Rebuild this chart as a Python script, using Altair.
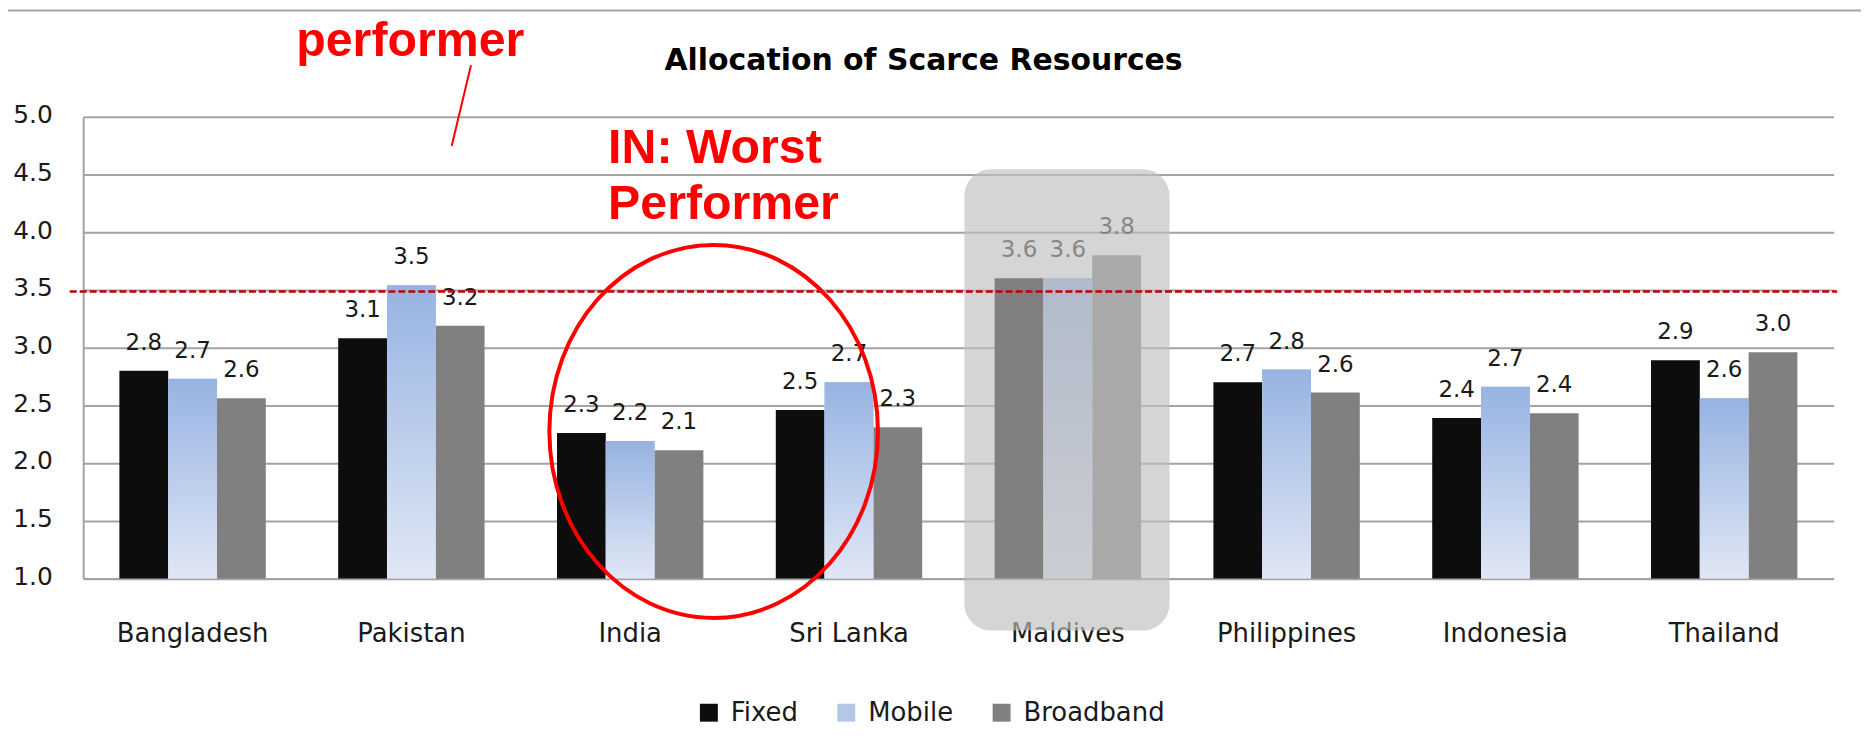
import altair as alt
import pandas as pd

# ---------------- data ----------------
countries = ["Bangladesh", "Pakistan", "India", "Sri Lanka", "Maldives",
             "Philippines", "Indonesia", "Thailand"]
series = ["Fixed", "Mobile", "Broadband"]
fixed = [2.80, 3.08, 2.26, 2.46, 3.60, 2.70, 2.39, 2.89]
mobile = [2.73, 3.54, 2.19, 2.70, 3.60, 2.81, 2.66, 2.56]
broadband = [2.56, 3.19, 2.11, 2.31, 3.80, 2.61, 2.43, 2.96]
y_ticks = [1.0, 1.5, 2.0, 2.5, 3.0, 3.5, 4.0, 4.5, 5.0]
benchmark = [3.485]
title_text = "Allocation of Scarce Resources"
note_top = "performer"
note_india = ["IN: Worst", "Performer"]

rows = []
for i, c in enumerate(countries):
    for s, vals in zip(series, [fixed, mobile, broadband]):
        rows.append({"country": c, "series": s, "value": vals[i]})
df = pd.DataFrame(rows)
one = pd.DataFrame({"k": [0]})

W, H = 1758, 463.6
GRID = "#a3a3a3"
TXT = "#1a1a1a"

x_enc = alt.X("country:N", sort=countries,
              scale=alt.Scale(paddingInner=0.331, paddingOuter=0.1655),
              axis=alt.Axis(title=None, labelAngle=0, ticks=False, tickSize=0,
                            labelPadding=42, labelFont="DejaVu Sans",
                            labelFontSize=26, labelColor=TXT,
                            domainColor=GRID, domainWidth=2, grid=False))
xo_enc = alt.XOffset("series:N", sort=series,
                     scale=alt.Scale(domain=series, paddingInner=0, paddingOuter=0))
y_scale = alt.Scale(domain=[1, 5], zero=False, nice=False)
y_enc = alt.Y("value:Q", scale=y_scale,
              axis=alt.Axis(title=None, values=y_ticks, format=".1f",
                            ticks=False, tickSize=0, labelPadding=31,
                            labelFont="DejaVu Sans", labelFontSize=25,
                            labelColor=TXT, labelOffset=-2,
                            grid=True, gridColor=GRID, gridWidth=2,
                            domainColor=GRID, domainWidth=2))

base = alt.Chart(df)

bars = base.mark_bar().encode(
    x=x_enc, xOffset=xo_enc, y=y_enc, y2=alt.datum(1.0),
    color=alt.Color("series:N", sort=series,
                    scale=alt.Scale(domain=series,
                                    range=["#0d0d0d", "#b4c7e7", "#808080"]),
                    legend=alt.Legend(title=None, orient="none",
                                      legendX=615.4, legendY=585.5,
                                      direction="horizontal",
                                      symbolType="square", symbolSize=324,
                                      symbolStrokeWidth=0, symbolOpacity=1,
                                      labelFont="DejaVu Sans", labelFontSize=26,
                                      labelColor=TXT, labelOffset=9,
                                      columnPadding=35, padding=0)),
)

mobile_grad = base.transform_filter(alt.datum.series == "Mobile").mark_bar(
    fill=alt.Gradient(gradient="linear", x1=0, x2=0, y1=0, y2=1,
                      stops=[alt.GradientStop(color="#97b3e2", offset=0),
                             alt.GradientStop(color="#e0e7f5", offset=1)])
).encode(x=alt.X("country:N", sort=countries), xOffset=xo_enc,
         y=alt.Y("value:Q"), y2=alt.datum(1.0))

labels = base.mark_text(baseline="alphabetic", dy=-21, font="DejaVu Sans",
                        fontSize=23, color=TXT).encode(
    x=alt.X("country:N", sort=countries), xOffset=xo_enc,
    y=alt.Y("value:Q"), text=alt.Text("value:Q", format=".1f"))

maldives_box = alt.Chart(one).mark_rect(
    cornerRadius=27, fill="#bebebe", opacity=0.65).encode(
    x=alt.value(885), x2=alt.value(1091),
    y=alt.value(52.6), y2=alt.value(516))

bench = alt.Chart(pd.DataFrame({"b": benchmark})).mark_rule(
    color="#c00000", strokeWidth=2.5, strokeDash=[7, 3]).encode(
    y=alt.Y("b:Q"), x=alt.value(-13.5), x2=alt.value(1761.5))

ellipse_path = "M -0.881 0 A 0.881 1 0 1 1 0.881 0 A 0.881 1 0 1 1 -0.881 0 Z"
ellipse = alt.Chart(one).mark_point(
    shape=ellipse_path, filled=False, color="#ff0000", strokeWidth=4,
    size=140325, opacity=1).encode(x=alt.value(633.2), y=alt.value(316))

note1 = alt.Chart(one).mark_text(
    align="left", baseline="alphabetic", font="Liberation Sans",
    fontWeight="bold", fontSize=48.5, color="#ff0000", lineHeight=57).encode(
    x=alt.value(527.2), y=alt.value(46), text=alt.value(note_india))

note2 = alt.Chart(one).mark_text(
    align="left", baseline="alphabetic", font="Liberation Sans",
    fontWeight="bold", fontSize=48.5, color="#ff0000").encode(
    x=alt.value(214), y=alt.value(-60.7), text=alt.value(note_top))

pointer = alt.Chart(one).mark_rule(color="#ff0000", strokeWidth=2).encode(
    x=alt.value(389.5), y=alt.value(-51.7), x2=alt.value(370.1), y2=alt.value(29.3))

title = alt.Chart(one).mark_text(
    align="center", baseline="alphabetic", font="DejaVu Sans",
    fontWeight="bold", fontSize=30, color="#000000").encode(
    x=alt.value(844), y=alt.value(-47), text=alt.value(title_text))

topline = alt.Chart(one).mark_rule(color="#a6a6a6", strokeWidth=2).encode(
    x=alt.value(-75.5), x2=alt.value(1785.5), y=alt.value(-106.7))

chart = alt.layer(
    bars, mobile_grad, labels, maldives_box, bench, ellipse,
    note1, note2, pointer, title, topline
).properties(
    width=W, height=H,
    padding={"left": 75.5, "top": 107.7, "right": 27.5, "bottom": 150},
    autosize=alt.AutoSizeParams(type="none"),
).configure_view(stroke=None)

chart.save("out.html", embed_options={"renderer": "svg", "actions": False})
